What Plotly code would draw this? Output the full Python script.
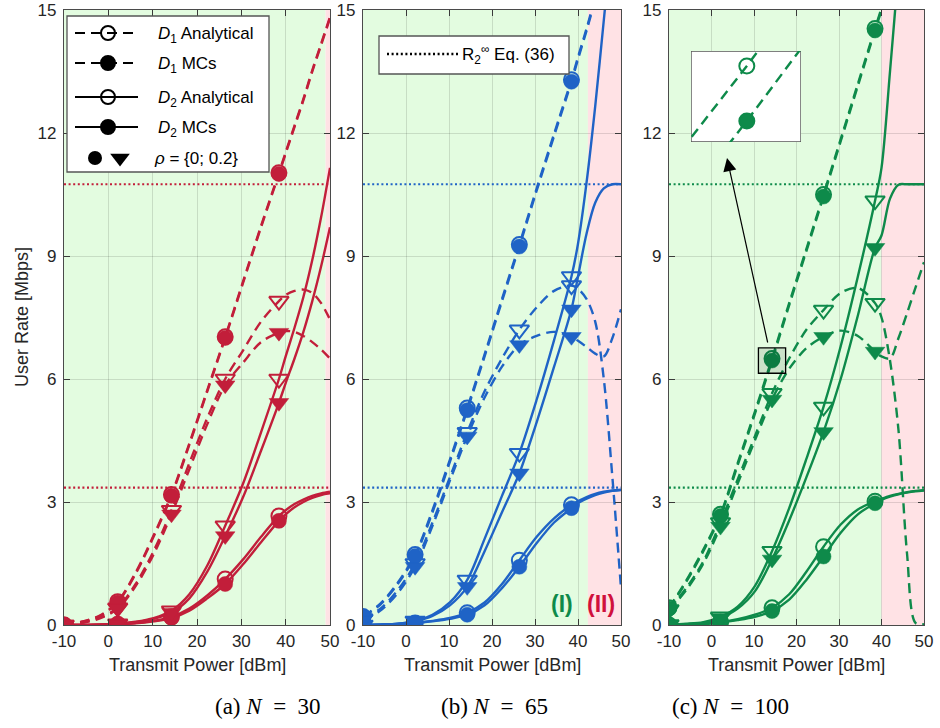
import plotly.graph_objects as go

# ---------------- data ----------------
X = [-10, -5.96, -1.92, 2.12, 6.16, 10.2, 14.24, 18.28, 22.32, 26.36, 30.4, 34.44, 38.48, 40, 42, 44, 46, 48, 50]
MARK_IDX = [0, 3, 6, 9, 12]
X_TICKS = [-10, 0, 10, 20, 30, 40, 50]
X_TICK_TEXT = ['-10', '0', '10', '20', '30', '40', '50']
Y_TICKS = [0, 3, 6, 9, 12, 15]
R2_INF = [10.75, 3.35]          # R2^inf, Eq. (36)
REGION_SPLIT = [49.0, 42.3, 40.0]  # boundary between region (I) and (II)
N_VALUES = [30, 65, 100]

# Panel (a) N = 30
a_d1_an_r0 = [0, 0.08, 0.23, 0.57, 1.28, 2.18, 3.18, 4.43, 5.73, 7.03, 8.38, 9.73, 11.03, 11.53, 12.18, 12.83, 13.53, 14.18, 14.83]
a_d1_mc_r0 = [0, 0.08, 0.22, 0.55, 1.25, 2.15, 3.15, 4.4, 5.7, 7.0, 8.35, 9.7, 11.0, 11.5, 12.15, 12.8, 13.5, 14.15, 14.8]
a_d1_an_r2 = [0, 0.06, 0.18, 0.42, 1.0, 1.8, 2.8, 3.95, 5.05, 6.0, 6.7, 7.4, 7.9, 8.05, 8.15, 8.18, 8.1, 7.85, 7.45]
a_d1_mc_r2 = [0, 0.05, 0.16, 0.4, 0.95, 1.72, 2.7, 3.8, 4.9, 5.85, 6.4, 6.9, 7.13, 7.17, 7.15, 7.05, 6.9, 6.72, 6.5]
a_d2_an_r0 = [0, 0, 0.005, 0.02, 0.05, 0.1, 0.2, 0.4, 0.72, 1.12, 1.6, 2.15, 2.66, 2.8, 2.95, 3.06, 3.15, 3.21, 3.25]
a_d2_mc_r0 = [0, 0, 0.005, 0.02, 0.04, 0.09, 0.17, 0.35, 0.65, 1.0, 1.48, 2.02, 2.54, 2.7, 2.87, 3.0, 3.1, 3.17, 3.21]
a_d2_an_r2 = [0, 0, 0.01, 0.03, 0.08, 0.17, 0.35, 0.75, 1.45, 2.42, 3.45, 4.7, 6.0, 6.55, 7.25, 8.0, 8.9, 9.95, 11.15]
a_d2_mc_r2 = [0, 0, 0.01, 0.03, 0.07, 0.15, 0.3, 0.65, 1.3, 2.17, 3.12, 4.25, 5.42, 5.9, 6.5, 7.15, 7.9, 8.75, 9.7]

# Panel (b) N = 65
b_d1_an_r0 = [0.21, 0.52, 1.03, 1.72, 2.8, 4.03, 5.29, 6.6, 7.95, 9.28, 10.65, 11.98, 13.3, 13.85, 14.55, 15.3, 16.05, 16.85, 17.65]
b_d1_mc_r0 = [0.2, 0.5, 1.0, 1.68, 2.75, 3.98, 5.24, 6.55, 7.9, 9.23, 10.6, 11.93, 13.25, 13.8, 14.5, 15.25, 16.0, 16.8, 17.6]
b_d1_an_r2 = [0.15, 0.4, 0.85, 1.5, 2.5, 3.6, 4.7, 5.7, 6.5, 7.2, 7.75, 8.15, 8.28, 8.2, 7.95, 7.4, 6.0, 3.6, 0.9]
b_d1_mc_r2 = [0.12, 0.35, 0.78, 1.42, 2.42, 3.52, 4.6, 5.55, 6.3, 6.83, 7.05, 7.15, 7.03, 6.93, 6.78, 6.62, 6.55, 7.0, 7.7]
b_d2_an_r0 = [0, 0.01, 0.02, 0.05, 0.1, 0.17, 0.3, 0.55, 1.0, 1.58, 2.15, 2.6, 2.93, 3.02, 3.12, 3.2, 3.25, 3.28, 3.3]
b_d2_mc_r0 = [0, 0.01, 0.02, 0.05, 0.09, 0.15, 0.25, 0.48, 0.9, 1.42, 2.0, 2.5, 2.85, 2.97, 3.08, 3.17, 3.23, 3.27, 3.29]
b_d2_an_r2 = [0, 0.01, 0.03, 0.1, 0.25, 0.55, 1.1, 2.1, 3.15, 4.19, 5.5, 6.95, 8.5, 9.3, 10.8, 12.65, 14.75, 16.9, 19.1]
b_d2_mc_r2 = [0, 0.01, 0.03, 0.09, 0.22, 0.48, 0.93, 1.8, 2.75, 3.7, 4.95, 6.3, 7.7, 8.5, 9.55, 10.3, 10.65, 10.75, 10.75]

# Panel (c) N = 100
c_d1_an_r0 = [0.42, 1.08, 1.84, 2.7, 3.95, 5.2, 6.5, 7.85, 9.17, 10.5, 11.85, 13.2, 14.55, 15.05, 15.75, 16.45, 17.15, 17.85, 18.55]
c_d1_mc_r0 = [0.4, 1.05, 1.8, 2.66, 3.9, 5.15, 6.45, 7.8, 9.12, 10.45, 11.8, 13.15, 14.5, 15.0, 15.7, 16.4, 17.1, 17.8, 18.5]
c_d1_an_r2 = [0.38, 0.9, 1.55, 2.5, 3.55, 4.6, 5.65, 6.5, 7.2, 7.68, 8.1, 8.22, 7.85, 7.5, 6.45, 4.75, 1.75, 0.05, 0.02]
c_d1_mc_r2 = [0.35, 0.85, 1.5, 2.4, 3.45, 4.5, 5.5, 6.25, 6.75, 7.03, 7.18, 7.05, 6.67, 6.55, 6.5, 7.0, 7.6, 8.23, 8.85]
c_d2_an_r0 = [0, 0.01, 0.03, 0.07, 0.14, 0.25, 0.42, 0.75, 1.3, 1.91, 2.45, 2.82, 3.02, 3.08, 3.15, 3.2, 3.24, 3.27, 3.29]
c_d2_mc_r0 = [0, 0.01, 0.02, 0.06, 0.12, 0.2, 0.34, 0.62, 1.1, 1.67, 2.25, 2.7, 2.97, 3.05, 3.13, 3.19, 3.23, 3.26, 3.28]
c_d2_an_r2 = [0.01, 0.03, 0.07, 0.2, 0.45, 0.95, 1.8, 2.85, 4.05, 5.32, 6.8, 8.5, 10.35, 11.15, 13.5, 16.0, 18.6, 21.2, 23.8]
c_d2_mc_r2 = [0.01, 0.02, 0.05, 0.17, 0.4, 0.82, 1.6, 2.55, 3.6, 4.71, 6.0, 7.55, 9.2, 9.5, 10.4, 10.74, 10.75, 10.75, 10.75]

PANEL_DATA = [
    dict(d1_an_r0=a_d1_an_r0, d1_mc_r0=a_d1_mc_r0, d1_an_r2=a_d1_an_r2, d1_mc_r2=a_d1_mc_r2,
         d2_an_r0=a_d2_an_r0, d2_mc_r0=a_d2_mc_r0, d2_an_r2=a_d2_an_r2, d2_mc_r2=a_d2_mc_r2),
    dict(d1_an_r0=b_d1_an_r0, d1_mc_r0=b_d1_mc_r0, d1_an_r2=b_d1_an_r2, d1_mc_r2=b_d1_mc_r2,
         d2_an_r0=b_d2_an_r0, d2_mc_r0=b_d2_mc_r0, d2_an_r2=b_d2_an_r2, d2_mc_r2=b_d2_mc_r2),
    dict(d1_an_r0=c_d1_an_r0, d1_mc_r0=c_d1_mc_r0, d1_an_r2=c_d1_an_r2, d1_mc_r2=c_d1_mc_r2,
         d2_an_r0=c_d2_an_r0, d2_mc_r0=c_d2_mc_r0, d2_an_r2=c_d2_an_r2, d2_mc_r2=c_d2_mc_r2),
]

# ---------------- style ----------------
W, H = 940, 728
COLORS = ['#C21E3A', '#1F63C6', '#0E8A4A']
GREEN_BG = '#E3FCE0'
PINK_BG = '#FFE2E5'
SANS = 'Liberation Sans, Arial, sans-serif'
SERIF = 'Liberation Serif, Times New Roman, serif'
TXT = '#262626'
DASH = '10px,6px'
DOT = '2px,2.6px'
NB = '\u00a0'

SERIES = [  # key, dash, symbol
    ('d2_an_r0', 'solid', 'circle-open'),
    ('d2_mc_r0', 'solid', 'circle'),
    ('d2_an_r2', 'solid', 'triangle-down-open'),
    ('d2_mc_r2', 'solid', 'triangle-down'),
    ('d1_an_r0', DASH, 'circle-open'),
    ('d1_mc_r0', DASH, 'circle'),
    ('d1_an_r2', DASH, 'triangle-down-open'),
    ('d1_mc_r2', DASH, 'triangle-down'),
]

# panel placement (pixels)
PX_X = [(64, 330), (363, 621), (669, 924)]
PX_Y = (10, 625)


def px2x(px):
    return px / W


def px2y(py):
    return 1 - py / H


def msize(sym):
    return 15 if 'circle' in sym else 17


fig = go.Figure()
shapes = []
annotations = []
layout_axes = {}

for p in range(3):
    data = PANEL_DATA[p]
    col = COLORS[p]
    xa = 'x' if p == 0 else f'x{p+1}'
    ya = 'y' if p == 0 else f'y{p+1}'
    # region backgrounds
    shapes.append(dict(type='rect', xref=xa, yref=f'{ya} domain', x0=X[0], x1=REGION_SPLIT[p], y0=0, y1=1,
                       fillcolor=GREEN_BG, line=dict(width=0), layer='below'))
    shapes.append(dict(type='rect', xref=xa, yref=f'{ya} domain', x0=REGION_SPLIT[p], x1=X[-1], y0=0, y1=1,
                       fillcolor=PINK_BG, line=dict(width=0), layer='below'))
    # curves
    for key, dash, sym in SERIES:
        fig.add_trace(go.Scatter(x=X, y=data[key], mode='lines',
                                 line=dict(color=col, width=2.4, dash=dash, shape='spline', smoothing=0.9),
                                 xaxis=xa, yaxis=ya, showlegend=False, hoverinfo='skip'))
    for r in R2_INF:
        fig.add_trace(go.Scatter(x=[X[0], X[-1]], y=[r, r], mode='lines',
                                 line=dict(color=col, width=2.2, dash=DOT),
                                 xaxis=xa, yaxis=ya, showlegend=False, hoverinfo='skip'))
    # markers (open first, filled over them)
    for open_pass in (True, False):
        for key, dash, sym in SERIES:
            if ('open' in sym) != open_pass:
                continue
            fig.add_trace(go.Scatter(x=[X[i] for i in MARK_IDX], y=[data[key][i] for i in MARK_IDX],
                                     mode='markers',
                                     marker=dict(symbol=sym, size=msize(sym), color=col,
                                                 line=dict(color=col, width=2 if open_pass else 0.5)),
                                     xaxis=xa, yaxis=ya, showlegend=False, hoverinfo='skip'))
    dom_x = [px2x(PX_X[p][0]), px2x(PX_X[p][1])]
    dom_y = [px2y(PX_Y[1]), px2y(PX_Y[0])]
    axcommon = dict(ticks='inside', ticklen=6, tickwidth=1, tickcolor='#3a3a3a',
                    showline=True, linecolor='#4a4a4a', linewidth=1.3, mirror='ticks',
                    showgrid=True, gridcolor='rgba(0,0,0,0.12)', gridwidth=1, zeroline=False,
                    automargin=False,
                    tickfont=dict(family=SANS, size=17, color=TXT), fixedrange=True)
    layout_axes['xaxis' if p == 0 else f'xaxis{p+1}'] = dict(
        domain=dom_x, range=[X_TICKS[0], X_TICKS[-1]], tickvals=X_TICKS, ticktext=X_TICK_TEXT,
        anchor=ya, **axcommon)
    layout_axes['yaxis' if p == 0 else f'yaxis{p+1}'] = dict(
        domain=dom_y, range=[Y_TICKS[0], Y_TICKS[-1]], tickvals=Y_TICKS, anchor=xa,
        ticklabelstandoff=3, **axcommon)
    # x-axis title
    annotations.append(dict(xref='paper', yref='paper', x=(dom_x[0] + dom_x[1]) / 2, y=px2y(665),
                            text='Transmit Power [dBm]', showarrow=False,
                            font=dict(family=SANS, size=18, color=TXT), xanchor='center', yanchor='middle'))

# captions
CAP_CENTERS = [268, 494, 730]
for p, lab in enumerate(['(a)', '(b)', '(c)']):
    annotations.append(dict(xref='paper', yref='paper', x=px2x(CAP_CENTERS[p]), y=px2y(706),
                            text=f'{lab}{NB}<i>N</i>{NB}{NB}={NB}{NB}{N_VALUES[p]}', showarrow=False,
                            font=dict(family=SERIF, size=23, color='black'), xanchor='center', yanchor='middle'))

# y title
annotations.append(dict(xref='paper', yref='paper', x=px2x(22), y=px2y(317), text='User Rate [Mbps]',
                        textangle=-90, showarrow=False, font=dict(family=SANS, size=18, color=TXT),
                        xanchor='center', yanchor='middle'))

# region labels
annotations.append(dict(xref='paper', yref='paper', x=px2x(562), y=px2y(604), text='<b>(I)</b>',
                        showarrow=False, font=dict(family=SANS, size=23, color=COLORS[2]),
                        xanchor='center', yanchor='middle'))
annotations.append(dict(xref='paper', yref='paper', x=px2x(601), y=px2y(604), text='<b>(II)</b>',
                        showarrow=False, font=dict(family=SANS, size=23, color='#D0103C'),
                        xanchor='center', yanchor='middle'))

# ---------------- legends (overlay axis in paper units) ----------------
layout_axes['xaxis4'] = dict(domain=[0, 1], range=[0, 1], visible=False, anchor='y4', fixedrange=True, automargin=False)
layout_axes['yaxis4'] = dict(domain=[0, 1], range=[0, 1], visible=False, anchor='x4', fixedrange=True, automargin=False)

# legend (a)
shapes.append(dict(type='rect', xref='x4', yref='y4', x0=px2x(67), x1=px2x(269), y0=px2y(172), y1=px2y(16),
                   fillcolor='white', line=dict(color='#555555', width=1.3), layer='below'))
LEG_ROWS = [33, 63, 97, 127, 158]
LEG_ITEMS = [
    (DASH, 'circle-open', '<i>D</i><sub>1</sub> Analytical'),
    (DASH, 'circle', '<i>D</i><sub>1</sub> MCs'),
    ('solid', 'circle-open', '<i>D</i><sub>2</sub> Analytical'),
    ('solid', 'circle', '<i>D</i><sub>2</sub> MCs'),
]
for (dash, sym, label), row in zip(LEG_ITEMS, LEG_ROWS):
    yy = px2y(row)
    fig.add_trace(go.Scatter(x=[px2x(75), px2x(138)], y=[yy, yy], mode='lines',
                             line=dict(color='black', width=2.2, dash=dash),
                             xaxis='x4', yaxis='y4', showlegend=False, hoverinfo='skip'))
    fig.add_trace(go.Scatter(x=[px2x(108)], y=[yy], mode='markers',
                             marker=dict(symbol=sym, size=14, color='black',
                                         line=dict(color='black', width=2)),
                             xaxis='x4', yaxis='y4', showlegend=False, hoverinfo='skip'))
    annotations.append(dict(xref='paper', yref='paper', x=px2x(156), y=px2y(row + 2), text=label,
                            showarrow=False, font=dict(family=SANS, size=17, color='black'),
                            xanchor='left', yanchor='middle'))
yy = px2y(LEG_ROWS[4])
fig.add_trace(go.Scatter(x=[px2x(95)], y=[yy], mode='markers',
                         marker=dict(symbol='circle', size=14, color='black'),
                         xaxis='x4', yaxis='y4', showlegend=False, hoverinfo='skip'))
fig.add_trace(go.Scatter(x=[px2x(120)], y=[yy], mode='markers',
                         marker=dict(symbol='triangle-down', size=17, color='black'),
                         xaxis='x4', yaxis='y4', showlegend=False, hoverinfo='skip'))
annotations.append(dict(xref='paper', yref='paper', x=px2x(152), y=yy, text='<i>ρ</i> = {0; 0.2}',
                        showarrow=False, font=dict(family=SANS, size=17, color='black'),
                        xanchor='left', yanchor='middle'))

# legend (b)
shapes.append(dict(type='rect', xref='x4', yref='y4', x0=px2x(379), x1=px2x(569), y0=px2y(74), y1=px2y(36),
                   fillcolor='white', line=dict(color='#555555', width=1.3), layer='below'))
fig.add_trace(go.Scatter(x=[px2x(387), px2x(459)], y=[px2y(54), px2y(54)], mode='lines',
                         line=dict(color='black', width=2.6, dash=DOT),
                         xaxis='x4', yaxis='y4', showlegend=False, hoverinfo='skip'))
annotations.append(dict(xref='paper', yref='paper', x=px2x(460), y=px2y(55),
                        text='R<sub>2</sub><sup>∞</sup> Eq. (36)', showarrow=False,
                        font=dict(family=SANS, size=17, color='black'), xanchor='left', yanchor='middle'))

# ---------------- inset in panel (c) ----------------
ci = MARK_IDX[2]
cx, cy = X[ci], c_d1_mc_r0[ci]
INSET_XR = [cx - 0.203, cx + 0.197]
INSET_YR = [cy - 0.0192, cy + 0.0636]
layout_axes['xaxis5'] = dict(domain=[px2x(691), px2x(801)], range=INSET_XR, visible=False, anchor='y5',
                             fixedrange=True, automargin=False)
layout_axes['yaxis5'] = dict(domain=[px2y(142), px2y(51)], range=INSET_YR, visible=False, anchor='x5',
                             fixedrange=True, automargin=False)
shapes.append(dict(type='rect', xref='x5', yref='y5', x0=INSET_XR[0], x1=INSET_XR[1], y0=INSET_YR[0], y1=INSET_YR[1],
                   fillcolor='white', line=dict(color='#555555', width=1.4), layer='below'))
for key, sym in (('d1_an_r0', 'circle-open'), ('d1_mc_r0', 'circle')):
    fig.add_trace(go.Scatter(x=X, y=PANEL_DATA[2][key], mode='lines',
                             line=dict(color=COLORS[2], width=2.4, dash=DASH),
                             xaxis='x5', yaxis='y5', showlegend=False, hoverinfo='skip'))
    fig.add_trace(go.Scatter(x=[X[i] for i in MARK_IDX], y=[PANEL_DATA[2][key][i] for i in MARK_IDX],
                             mode='markers', marker=dict(symbol=sym, size=15, color=COLORS[2],
                                                         line=dict(color=COLORS[2], width=2)),
                             xaxis='x5', yaxis='y5', showlegend=False, hoverinfo='skip'))

# zoom box around the marker in panel (c)
shapes.append(dict(type='rect', xref='x3', yref='y3', x0=cx - 3.2, x1=cx + 3.2, y0=cy - 0.31, y1=cy + 0.31,
                   fillcolor='rgba(0,0,0,0.1)', line=dict(color='black', width=1.3), layer='above'))
# arrow from zoom box to inset
annotations.append(dict(xref='x4', yref='y4', x=px2x(727), y=px2y(158),
                        axref='x4', ayref='y4', ax=px2x(768), ay=px2y(344),
                        text='', showarrow=True, arrowhead=2, arrowsize=2.2, arrowwidth=1.2, arrowcolor='black'))

fig.update_layout(
    width=W, height=H, autosize=False,
    margin=dict(l=0, r=0, t=0, b=0, pad=0, autoexpand=False),
    paper_bgcolor='white', plot_bgcolor='rgba(0,0,0,0)',
    showlegend=False, shapes=shapes, annotations=annotations,
    **layout_axes,
)

fig.write_html('out.html')
